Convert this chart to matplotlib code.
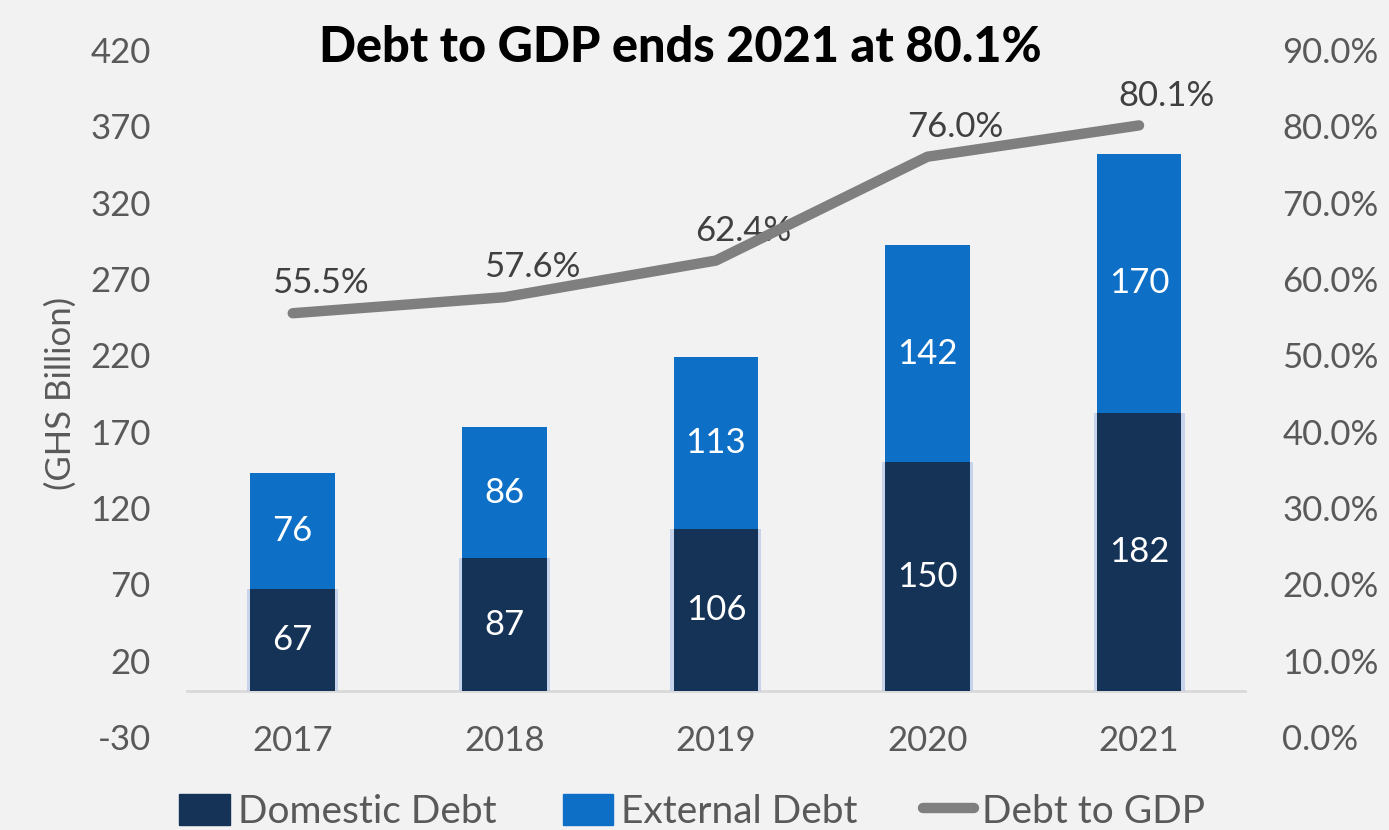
import numpy as np
import matplotlib.pyplot as plt
from matplotlib.lines import Line2D
from matplotlib.patches import Patch

# data
years = ['2017', '2018', '2019', '2020', '2021']
domestic = [67, 87, 106, 150, 182]
external = [76, 86, 113, 142, 170]
debt_gdp = [55.5, 57.6, 62.4, 76.0, 80.1]

bg = '#f2f2f2'
navy = '#153257'
blue = '#0e6fc7'
gray_line = '#7f7f7f'
txt = '#595959'

plt.rcParams['font.family'] = ['Lato', 'DejaVu Sans']
plt.rcParams['axes.unicode_minus'] = False

fig = plt.figure(figsize=(13.89, 8.30), dpi=100, facecolor=bg)
ax = fig.add_axes([0.1346, 0.112, 0.7616, 0.828])
ax.set_facecolor(bg)
x = np.arange(len(years))
w = 0.40

# soft glow behind the domestic bars
ax.bar(x, domestic, w + 0.03, color='#b4c7e7', alpha=0.7, zorder=2)
ax.bar(x, domestic, w, color=navy, zorder=3)
ax.bar(x, external, w, bottom=domestic, color=blue, zorder=3)
for i in range(len(years)):
    ax.text(x[i], domestic[i] / 2, str(domestic[i]), ha='center', va='center',
            color='white', fontsize=25, zorder=5)
    ax.text(x[i], domestic[i] + external[i] / 2, str(external[i]), ha='center',
            va='center', color='white', fontsize=25, zorder=5)

ax.set_xlim(-0.5, 4.5)
ax.set_ylim(-30, 420)
ax.set_yticks(np.arange(-30, 421, 50))
ax.set_xticks(x)
ax.set_xticklabels(years)
ax.tick_params(axis='both', length=0, labelsize=25, labelcolor=txt)
ax.tick_params(axis='x', pad=24)
ax.tick_params(axis='y', pad=26)
for s in ['top', 'left', 'right']:
    ax.spines[s].set_visible(False)
ax.spines['bottom'].set_position(('data', 0))
ax.spines['bottom'].set_color('#d9d9d9')
ax.spines['bottom'].set_linewidth(2)
ax.spines['bottom'].set_zorder(1)
ax.set_ylabel('(GHS Billion)', fontsize=25, color=txt, labelpad=10)

ax2 = ax.twinx()
ax2.set_ylim(0, 90)
ax2.set_yticks(np.arange(0, 91, 10))
ax2.set_yticklabels([f'{v:.1f}%' for v in np.arange(0, 91, 10)])
ax2.tick_params(axis='y', length=0, labelsize=25, labelcolor=txt, pad=27)
for s in ax2.spines.values():
    s.set_visible(False)
ax2.plot(x, debt_gdp, color=gray_line, lw=7.5, solid_capstyle='round',
         solid_joinstyle='round', zorder=4)
for i, v in enumerate(debt_gdp):
    ax2.annotate(f'{v:.1f}%', (x[i], v), xytext=(20, 10), textcoords='offset points',
                 ha='center', va='bottom', fontsize=25, color='#404040')

fig.text(0.49, 0.943, 'Debt to GDP ends 2021 at 80.1%', ha='center', va='center',
         fontsize=35, fontweight='black', color='black')

handles = [Patch(color=navy), Patch(color=blue),
           Line2D([], [], color=gray_line, lw=7.5, solid_capstyle='round')]
fig.legend(handles, ['Domestic Debt', 'External Debt', 'Debt to GDP'],
           loc='lower left', bbox_to_anchor=(0.104, -0.042), ncol=3, frameon=False,
           fontsize=28, labelcolor=txt, handlelength=1.3, handleheight=0.85,
           handletextpad=0.2, columnspacing=1.7)

fig.savefig('out.png', dpi=100, facecolor=bg)
